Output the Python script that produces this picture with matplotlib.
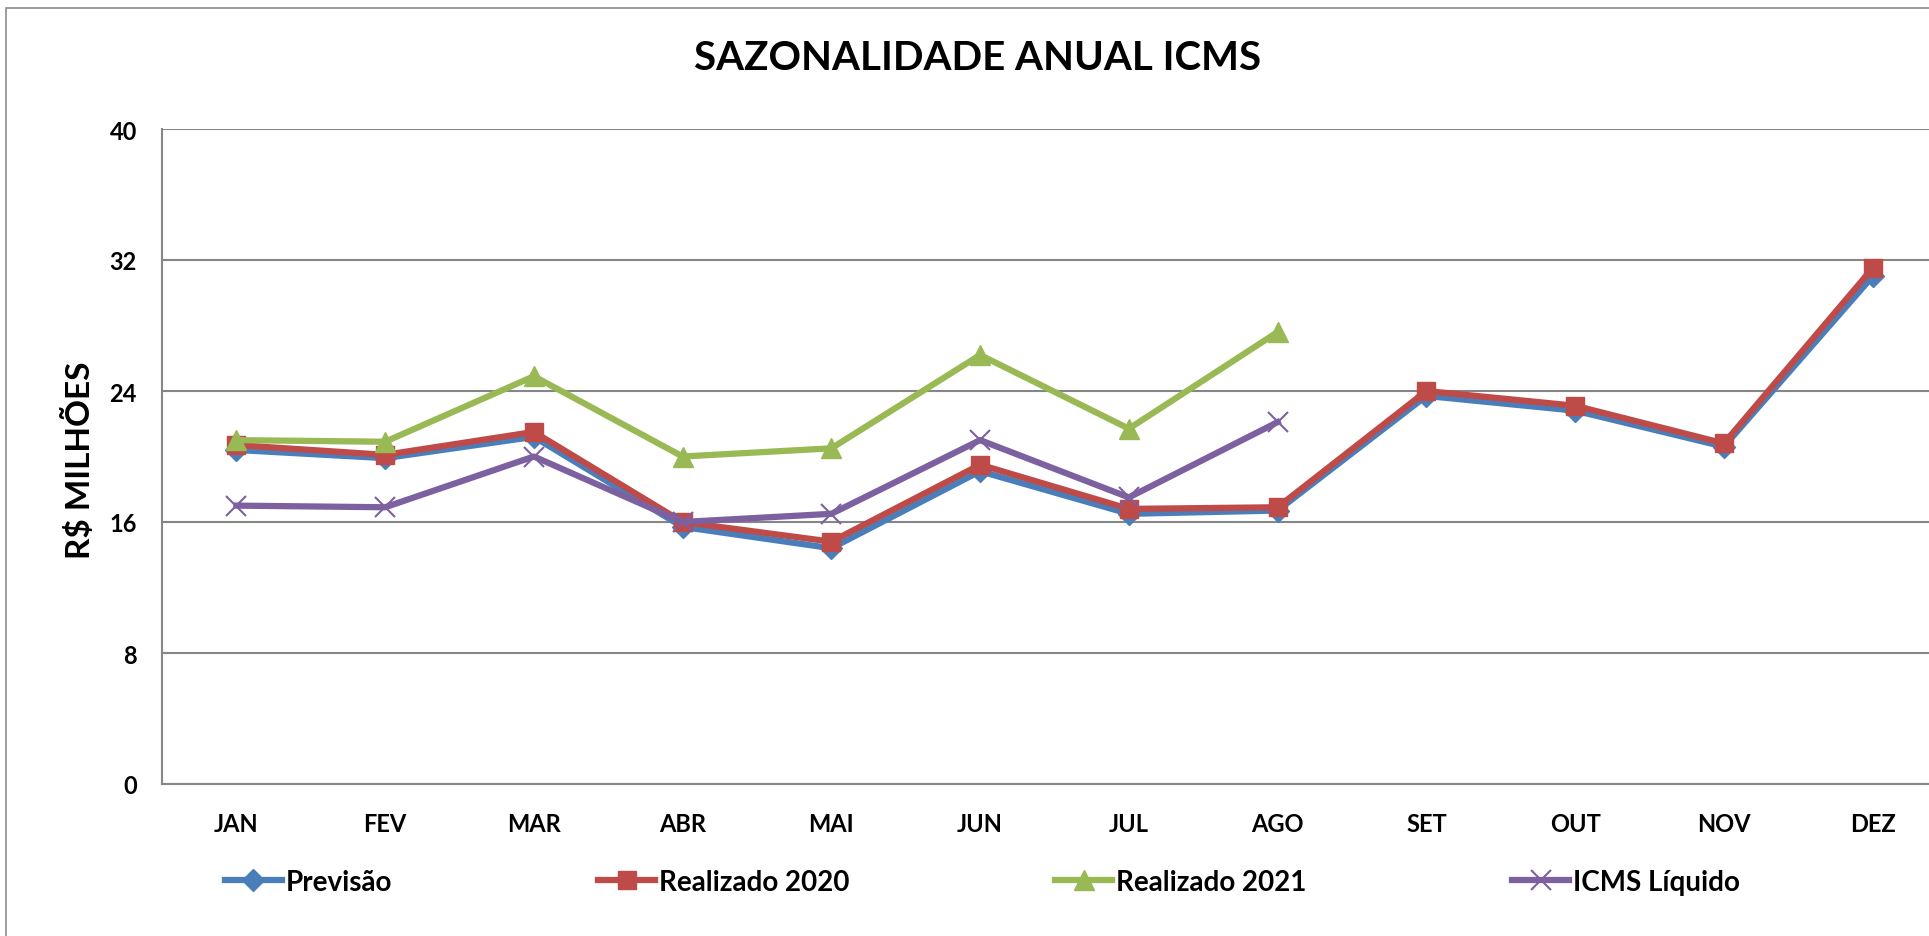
import matplotlib
matplotlib.use("Agg")
import matplotlib.pyplot as plt
from matplotlib.patches import Rectangle

plt.rcParams['font.family'] = ['Lato', 'DejaVu Sans']
plt.rcParams['font.weight'] = 'bold'

meses = ["JAN", "FEV", "MAR", "ABR", "MAI", "JUN", "JUL", "AGO", "SET", "OUT", "NOV", "DEZ"]
previsao = [20.4, 19.9, 21.2, 15.7, 14.4, 19.1, 16.5, 16.7, 23.7, 22.8, 20.6, 31.0]
realizado_2020 = [20.7, 20.1, 21.5, 16.0, 14.8, 19.5, 16.8, 16.9, 24.0, 23.1, 20.8, 31.5]
realizado_2021 = [21.0, 20.9, 24.9, 20.0, 20.5, 26.2, 21.7, 27.6]
icms_liquido = [17.0, 16.9, 20.0, 16.0, 16.5, 21.0, 17.5, 22.1]
y_ticks = [0, 8, 16, 24, 32, 40]

fig = plt.figure(figsize=(19.29, 9.37), dpi=100)
fig.patches.append(Rectangle((6 / 1929, -0.05), 1.1, 1.05 - 9 / 937, transform=fig.transFigure,
                             fill=False, edgecolor="#8c8c8c", linewidth=1.2))

ax = fig.add_axes([162 / 1929, 152 / 937, 1785 / 1929, 655 / 937])
x = list(range(len(meses)))

ax.plot(x, previsao, color="#4A7EBB", lw=4.5, marker="D", ms=11, label="Previsão")
ax.plot(x, realizado_2020, color="#BE4B48", lw=4.5, marker="s", ms=13.5, label="Realizado 2020")
ax.plot(x[:len(realizado_2021)], realizado_2021, color="#98B954", lw=4.5, marker="^", ms=15,
        label="Realizado 2021")
ax.plot(x[:len(icms_liquido)], icms_liquido, color="#7D60A0", lw=4.5, marker="x", ms=14, mew=1.5,
        label="ICMS Líquido")

ax.set_xlim(-0.5, len(meses) - 0.5)
ax.set_ylim(0, 40)
ax.set_yticks(y_ticks)
ax.set_xticks(x)
ax.set_xticklabels(meses)
ax.tick_params(axis="both", length=0, labelsize=17)
ax.tick_params(axis="x", pad=20)
ax.tick_params(axis="y", pad=18)
for lab in ax.get_xticklabels() + ax.get_yticklabels():
    lab.set_fontweight("bold")
ax.grid(axis="y", color="#868686", lw=1.5)
ax.set_axisbelow(True)
for s in ["top", "right"]:
    ax.spines[s].set_visible(False)
ax.spines["left"].set_color("#868686")
ax.spines["bottom"].set_color("#868686")
ax.spines["left"].set_linewidth(1.5)
ax.spines["bottom"].set_linewidth(1.5)

ax.set_ylabel("R$ MILHÕES", fontsize=24, fontweight="bold")
ax.yaxis.set_label_coords((95 - 162) / 1785, 0.496)

fig.text(978 / 1929, 1 - 59 / 937, "SAZONALIDADE ANUAL ICMS", ha="center", va="center",
         fontsize=29, fontweight="bold")

fig.legend(loc="center left", bbox_to_anchor=(200 / 1929, 1 - 883 / 937), ncol=4, frameon=False,
           handlelength=2.05, handletextpad=0.15, columnspacing=7.4,
           prop={"weight": "bold", "size": 20})

fig.savefig("out.png", dpi=100)
